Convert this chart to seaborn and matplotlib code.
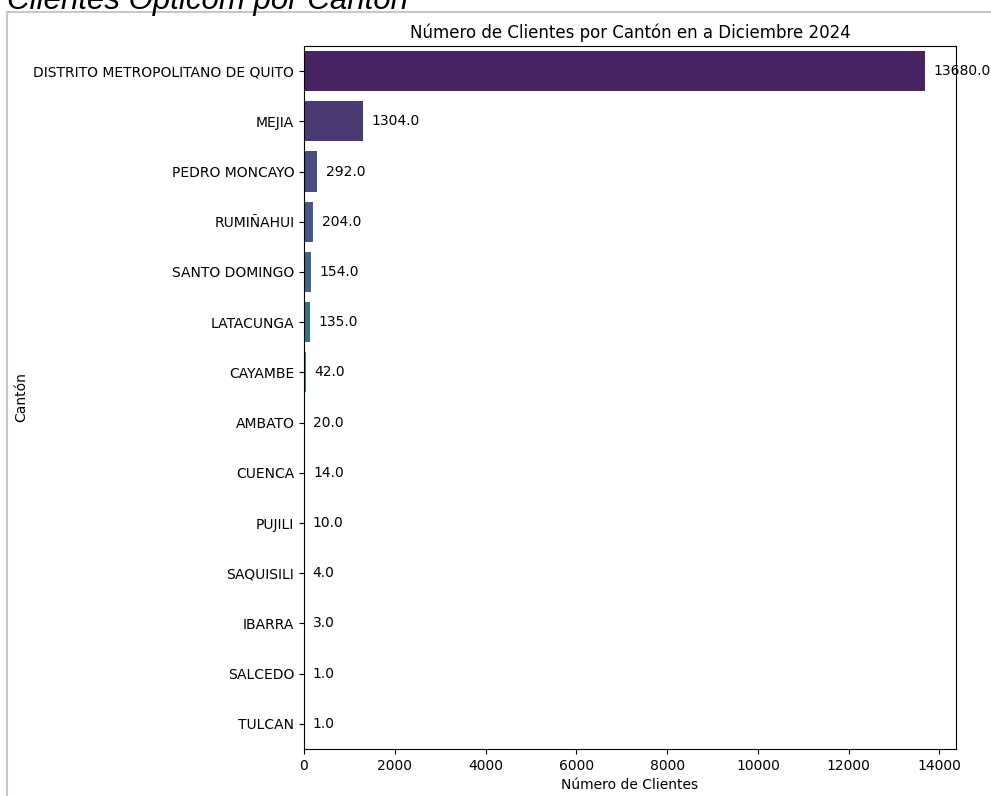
import matplotlib
matplotlib.use("Agg")
import matplotlib.pyplot as plt
import seaborn as sns
import pandas as pd

# Datos
cantones = ["DISTRITO METROPOLITANO DE QUITO", "MEJIA", "PEDRO MONCAYO", "RUMIÑAHUI",
            "SANTO DOMINGO", "LATACUNGA", "CAYAMBE", "AMBATO", "CUENCA", "PUJILI",
            "SAQUISILI", "IBARRA", "SALCEDO", "TULCAN"]
clientes = [13680.0, 1304.0, 292.0, 204.0, 154.0, 135.0, 42.0, 20.0, 14.0, 10.0,
            4.0, 3.0, 1.0, 1.0]

df = pd.DataFrame({"Cantón": cantones, "Clientes": clientes})

fig = plt.figure(figsize=(9.91, 7.96), dpi=100)

# encabezado del notebook (cortado arriba) y borde de la celda
fig.text(0.007, 0.9887, "Clientes Opticom por Cantón", fontsize=22.5, style="italic",
         family="Liberation Sans", ha="left", va="baseline")
border = plt.Rectangle((7 / 991, -0.01), 1.0, 1 - 12 / 796 + 0.01, transform=fig.transFigure,
                       fill=False, edgecolor="#c8c8c8", linewidth=1.5)
fig.patches.append(border)

ax = fig.add_axes([304 / 991, 1 - 749 / 796, (956 - 304) / 991, (749 - 46) / 796])
sns.barplot(data=df, x="Clientes", y="Cantón", hue="Cantón", palette="viridis",
            legend=False, ax=ax)
for c in ax.containers:
    ax.bar_label(c, fmt="%.1f", padding=6)

ax.set_title("Número de Clientes por Cantón en a Diciembre 2024")
ax.set_xlabel("Número de Clientes")
ax.set_ylabel("Cantón")

fig.savefig("out.png", dpi=100)
